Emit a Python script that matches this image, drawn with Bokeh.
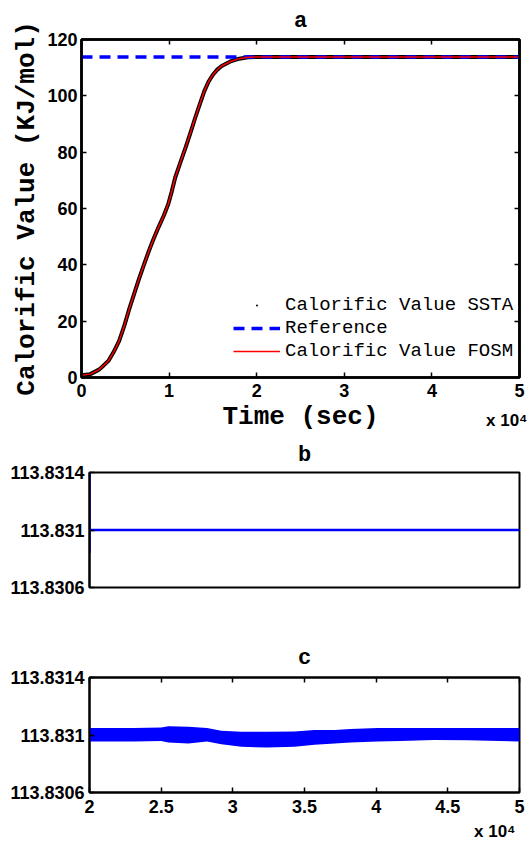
from bokeh.plotting import figure
from bokeh.models import FixedTicker, LinearAxis, Range1d, Legend, LegendItem, Title
from bokeh.embed import file_html
from bokeh.resources import INLINE

# ---------------- data ----------------
time_a = [0, 1000, 2000, 2500, 3100, 3700, 4300, 4900, 5400, 6000, 6500, 7100,
          7700, 8200, 8800, 9400, 9900, 10300, 10700, 11300, 11900, 12500, 13000,
          13500, 14000, 14500, 15000, 15500, 16000, 17000, 18000, 19000, 20000, 50000]
calorific_ssta = [0.8, 1.2, 2.8, 4.2, 6.0, 9.2, 13.0, 18.5, 23.8, 29.6, 34.4, 39.8,
                  45.0, 49.0, 53.4, 57.5, 61.5, 66.0, 71.0, 76.5, 81.8, 87.5, 92.4,
                  97.0, 101.5, 105.0, 107.5, 109.3, 110.6, 112.2, 113.2, 113.7,
                  113.831, 113.831]
calorific_fosm = [0.8, 1.2, 2.8, 4.2, 6.0, 9.2, 13.0, 18.5, 23.8, 29.6, 34.4, 39.8,
                  45.0, 49.0, 53.4, 57.5, 61.5, 66.0, 71.0, 76.5, 81.8, 87.5, 92.4,
                  97.0, 101.5, 105.0, 107.5, 109.3, 110.6, 112.2, 113.2, 113.7,
                  113.831, 113.831]
ref_time = [0, 50000]
ref_value = [113.831, 113.831]

time_b = [20000, 20000, 20000, 50000]
value_b = [113.83084, 113.8315, 113.831, 113.831]

time_c = [20000, 23100, 25000, 25500, 26900, 28200, 29200, 30600, 32400,
          34300, 35700, 37100, 38200, 40100, 41700, 44000, 46400, 50000]
upper_c = [113.831048, 113.831048, 113.831052, 113.831061, 113.831057, 113.831048,
           113.831029, 113.831022, 113.831022, 113.831024, 113.831034, 113.831034,
           113.831041, 113.831048, 113.831048, 113.831048, 113.831048, 113.831048]
lower_c = [113.830955, 113.830955, 113.830959, 113.830948, 113.830941, 113.830955,
           113.830936, 113.830918, 113.830913, 113.830918, 113.830932, 113.830941,
           113.830948, 113.830955, 113.830959, 113.830966, 113.830964, 113.830955]

xticks_a = [0, 10000, 20000, 30000, 40000, 50000]
xlabels_a = ["0", "1", "2", "3", "4", "5"]
yticks_a = [0, 20, 40, 60, 80, 100, 120]
xticks_c = [20000, 25000, 30000, 35000, 40000, 45000, 50000]
xlabels_c = ["2", "2.5", "3", "3.5", "4", "4.5", "5"]
yticks_bc = [113.8306, 113.831, 113.8314]
ylabels_bc = ["113.8306", "113.831", "113.8314"]
exponent_text = "x 10\u2074"

MONO = "Liberation Mono"
SANS = "Liberation Sans"


def style_axis(ax, width):
    ax.axis_line_width = width
    ax.axis_line_color = "black"
    ax.major_tick_in = 5
    ax.major_tick_out = 0
    ax.major_tick_line_width = 1.5
    ax.minor_tick_line_color = None
    ax.major_label_text_font = SANS
    ax.major_label_text_font_style = "bold"
    ax.major_label_text_font_size = "18px"
    ax.major_label_text_color = "black"


def mirror_axis(ticks, width):
    ax = LinearAxis(ticker=FixedTicker(ticks=ticks))
    style_axis(ax, width)
    ax.major_label_overrides = {t: "" for t in ticks}
    ax.major_label_standoff = 0
    ax.major_label_text_font_size = "1px"
    return ax


def title_obj(text, align, size, font, standoff, offset=0, valign="bottom"):
    return Title(text=text, align=align, text_font=font, text_font_style="bold",
                 text_font_size=size, text_color="black", standoff=standoff,
                 offset=offset, vertical_align=valign)


def base_fig(h, left, top, bottom, xr, yr):
    p = figure(width=531, height=h, x_range=xr, y_range=yr,
               output_backend="svg", toolbar_location=None,
               min_border_left=left, min_border_right=12,
               min_border_top=top, min_border_bottom=bottom)
    p.grid.visible = False
    p.background_fill_color = "white"
    p.border_fill_color = "white"
    p.outline_line_color = "black"
    return p


# ---------------- panel a ----------------
pa = base_fig(435, 81, 39, 58, Range1d(0, 50000), Range1d(0, 120))
pa.outline_line_width = 2.5

pa.line(time_a, calorific_ssta, line_color="black", line_width=4, line_join="round")
ssta_dots = pa.scatter(time_a, calorific_ssta, marker="dot", size=4,
                       fill_color="black", line_color="black")
ref_r = pa.line(ref_time, ref_value, line_color="#0000FF", line_width=3.5,
                line_dash="11 7")
fosm_r = pa.line(time_a, calorific_fosm, line_color="#FF0000", line_width=1.5,
                 line_join="round")

pa.xaxis.ticker = FixedTicker(ticks=xticks_a)
pa.xaxis.major_label_overrides = dict(zip(xticks_a, xlabels_a))
pa.yaxis.ticker = FixedTicker(ticks=yticks_a)
for ax in pa.xaxis + pa.yaxis:
    style_axis(ax, 2.5)
pa.xaxis.major_label_standoff = 6
pa.yaxis.major_label_standoff = 4
pa.xaxis.axis_label = "Time (sec)"
pa.yaxis.axis_label = "Calorific Value (KJ/mol)"
for ax in pa.xaxis + pa.yaxis:
    ax.axis_label_text_font = MONO
    ax.axis_label_text_font_style = "bold"
    ax.axis_label_text_font_size = "26px"
    ax.axis_label_text_color = "black"
pa.xaxis.axis_label_standoff = 2
pa.yaxis.axis_label_standoff = 2

pa.add_layout(mirror_axis(xticks_a, 2.5), "above")
pa.add_layout(mirror_axis(yticks_a, 2.5), "right")
pa.add_layout(title_obj("a", "center", "22px", MONO, 11), "above")
pa.add_layout(title_obj(exponent_text, "right", "17px", SANS, -48, -8, "top"), "below")

legend = Legend(items=[
    LegendItem(label="Calorific Value SSTA", renderers=[ssta_dots]),
    LegendItem(label="Reference", renderers=[ref_r]),
    LegendItem(label="Calorific Value FOSM", renderers=[fosm_r]),
], location=(152, 15))
legend.border_line_color = None
legend.background_fill_alpha = 0
legend.label_text_font = MONO
legend.label_text_font_size = "19px"
legend.label_text_color = "black"
legend.glyph_width = 47
legend.glyph_height = 20
legend.label_height = 20
legend.spacing = 1
legend.padding = 0
legend.margin = 0
legend.label_standoff = 5
pa.add_layout(legend)

# ---------------- panel b ----------------
pb = base_fig(190, 89, 37, 38, Range1d(20000, 50000), Range1d(113.8306, 113.8314))
pb.outline_line_width = 2
pb.line(time_b, value_b, line_color="#0000FF", line_width=2.5)
pb.xaxis.visible = False
pb.yaxis.ticker = FixedTicker(ticks=yticks_bc)
pb.yaxis.major_label_overrides = dict(zip(yticks_bc, ylabels_bc))
for ax in pb.yaxis:
    style_axis(ax, 2)
pb.yaxis.major_label_standoff = 5
pb.add_layout(title_obj("b", "center", "22px", MONO, 9), "above")

# ---------------- panel c ----------------
pc = base_fig(223, 89, 52, 56, Range1d(20000, 50000), Range1d(113.8306, 113.8314))
pc.outline_line_width = 2
pc.varea(x=time_c, y1=lower_c, y2=upper_c, fill_color="#0000FF")
pc.xaxis.ticker = FixedTicker(ticks=xticks_c)
pc.xaxis.major_label_overrides = dict(zip(xticks_c, xlabels_c))
pc.yaxis.ticker = FixedTicker(ticks=yticks_bc)
pc.yaxis.major_label_overrides = dict(zip(yticks_bc, ylabels_bc))
for ax in pc.xaxis + pc.yaxis:
    style_axis(ax, 2)
pc.xaxis.major_label_standoff = 7
pc.yaxis.major_label_standoff = 5
pc.add_layout(mirror_axis(xticks_c, 2), "above")
pc.add_layout(title_obj("c", "center", "22px", MONO, 14), "above")
pc.add_layout(title_obj(exponent_text, "right", "17px", SANS, 8, 4), "below")

open("out.html", "w").write(file_html([pa, pb, pc], INLINE))
